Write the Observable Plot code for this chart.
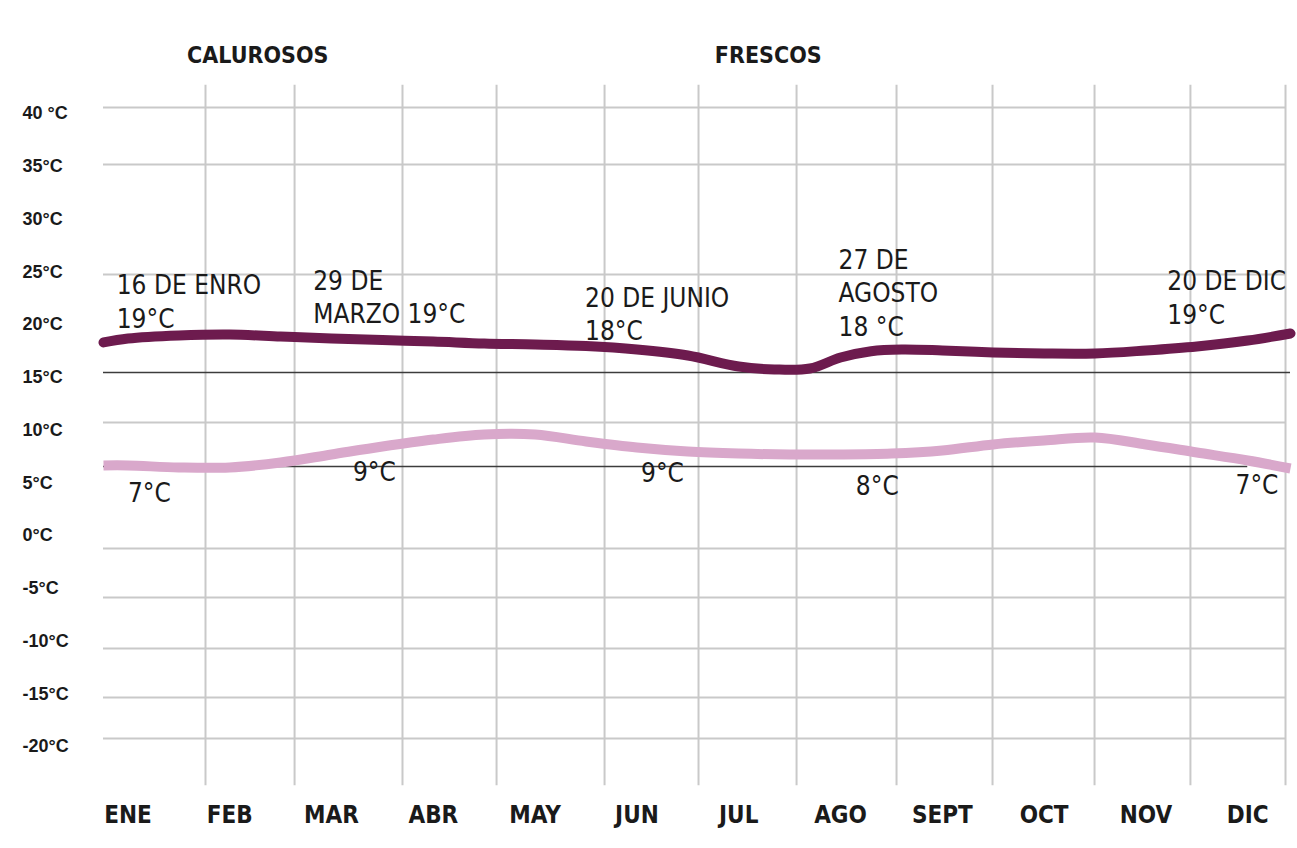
<!DOCTYPE html>
<html>
<head>
<meta charset="utf-8">
<script src="https://cdn.jsdelivr.net/npm/d3@7"></script>
<script src="https://cdn.jsdelivr.net/npm/@observablehq/plot@0.6"></script>
<style>
  html, body { margin: 0; padding: 0; background: #ffffff; }
  #chart { width: 1297px; height: 848px; }
</style>
</head>
<body>
<div id="chart"></div>
<script>
// ---- data ----
const months = ["ENE", "FEB", "MAR", "ABR", "MAY", "JUN", "JUL", "AGO", "SEPT", "OCT", "NOV", "DIC"];
const tempTicks = [40, 35, 30, 25, 20, 15, 10, 5, 0, -5, -10, -15, -20];
const tempTickLabels = ["40 °C", "35°C", "30°C", "25°C", "20°C", "15°C", "10°C", "5°C", "0°C", "-5°C", "-10°C", "-15°C", "-20°C"];

// maximum temperature curve (dark)
const maxMonth = [-0.24, 0, 0.5, 1, 1.5, 2, 2.5, 3, 3.5, 4, 4.5, 5, 5.5, 6, 6.35, 6.7, 7, 7.3, 7.6, 8, 8.5, 9, 9.5, 10, 10.5, 11, 11.42];
const maxTemp  = [17.73, 18.1, 18.39, 18.48, 18.29, 18.1, 17.96, 17.82, 17.63, 17.54, 17.39, 17.06, 16.49, 15.45, 15.17, 15.26, 16.3, 16.9, 17.06, 16.97, 16.78, 16.68, 16.68, 16.97, 17.35, 17.91, 18.58];

// minimum temperature curve (light)
const minMonth = [-0.24, 0, 0.5, 1, 1.5, 2, 2.5, 3, 3.5, 4, 4.5, 5, 5.5, 6, 6.5, 7, 7.5, 8, 8.5, 9, 9.5, 10, 10.5, 11, 11.42];
const minTemp  = [6.07, 6.07, 5.88, 5.88, 6.35, 7.11, 7.87, 8.53, 9.0, 9.0, 8.34, 7.77, 7.39, 7.2, 7.11, 7.11, 7.2, 7.49, 8.06, 8.44, 8.72, 8.06, 7.3, 6.54, 5.78];

// grid lines as they appear in the picture
const gridTemps  = [40, 34.6, 24.17, 10.14, -1.8, -6.45, -11.28, -15.92, -19.81];
const gridMonths = [0.762, 1.637, 2.697, 3.621, 4.682, 5.605, 6.568, 7.55, 8.493, 9.495, 10.437, 11.371];

// reference (black) lines
const refTemps  = [14.88, 5.97];
const refEnds   = [11.42, 11.0];

// annotations
const highText = ["16 DE ENRO\n19°C", "29 DE\nMARZO 19°C", "20 DE JUNIO\n18°C", "27 DE\nAGOSTO\n18 °C", "20 DE DIC\n19°C"];
const highX    = [-0.11, 1.82, 4.49, 6.98, 10.21];
const highY    = [24.55, 25.02, 23.41, 27.01, 24.93];

const lowText  = ["7°C", "9°C", "9°C", "8°C", "7°C"];
const lowX     = [0.0, 2.21, 5.04, 7.15, 10.88];
const lowY     = [4.36, 6.35, 6.26, 5.02, 5.12];

const seasonText = ["CALUROSOS", "FRESCOS"];
const seasonX    = [1.275, 6.29];
const seasonY    = [44.93, 44.93];

// ---- build tables ----
const maxSeries = maxMonth.map((m, i) => ({m, t: maxTemp[i]}));
const minSeries = minMonth.map((m, i) => ({m, t: minTemp[i]}));
const refs = refTemps.map((t, i) => ({t, end: refEnds[i]}));
const highs = highText.map((s, i) => ({s, m: highX[i], t: highY[i]}));
const lows = lowText.map((s, i) => ({s, m: lowX[i], t: lowY[i]}));
const seasons = seasonText.map((s, i) => ({s, m: seasonX[i], t: seasonY[i]}));

const narrow = "'Liberation Sans Narrow', 'Arial Narrow', 'DejaVu Sans Condensed', sans-serif";
const gridColor = "#c9c9c9";

const chart = Plot.plot({
  width: 1297,
  height: 848,
  marginLeft: 103,
  marginRight: 7,
  marginTop: 107,
  marginBottom: 108,
  style: {background: "#ffffff", overflow: "visible"},
  x: {domain: [-0.24, 11.42], axis: null},
  y: {domain: [-20, 40], axis: null},
  marks: [
    Plot.ruleY(gridTemps, {x1: -0.24, x2: 11.38, stroke: gridColor, strokeWidth: 2}),
    Plot.ruleX(gridMonths, {y1: 42.1, y2: -24.3, stroke: gridColor, strokeWidth: 2}),
    Plot.ruleY(refs, {y: "t", x1: -0.24, x2: "end", stroke: "#3c3c3c", strokeWidth: 1.6}),
    Plot.line(minSeries, {x: "m", y: "t", stroke: "#d9a8cb", strokeWidth: 10, curve: "catmull-rom", strokeLinecap: "butt"}),
    Plot.line(maxSeries, {x: "m", y: "t", stroke: "#6d1b4e", strokeWidth: 10, curve: "catmull-rom", strokeLinecap: "round"}),
    // y axis labels
    Plot.text(tempTicks, {
      y: d => d, frameAnchor: "left", dx: -81, dy: 6, textAnchor: "start",
      text: (d, i) => tempTickLabels[i],
      fontFamily: "'Liberation Sans', Arial, sans-serif", fontWeight: "bold", fontSize: 18,
      fill: "#1a1a1a", letterSpacing: "-1.2px"
    }),
    // month labels
    Plot.text(months, {
      x: (d, i) => i, frameAnchor: "bottom", dy: 75, lineAnchor: "middle",
      text: d => d, fontFamily: narrow, fontWeight: "bold", fontSize: 24, fill: "#1a1a1a"
    }),
    // season titles
    Plot.text(seasons, {
      x: "m", y: "t", text: "s", lineAnchor: "middle",
      fontFamily: narrow, fontWeight: "bold", fontSize: 23, fill: "#1a1a1a", letterSpacing: "-0.5px"
    }),
    // high annotations
    Plot.text(highs, {
      x: "m", y: "t", text: "s", textAnchor: "start", lineAnchor: "top", lineHeight: 1.3,
      fontFamily: narrow, fontSize: 26, fill: "#1a1a1a"
    }),
    // low annotations
    Plot.text(lows, {
      x: "m", y: "t", text: "s", textAnchor: "start", lineAnchor: "top",
      fontFamily: narrow, fontSize: 26, fill: "#1a1a1a"
    })
  ]
});

document.getElementById("chart").appendChild(chart);
</script>
</body>
</html>
